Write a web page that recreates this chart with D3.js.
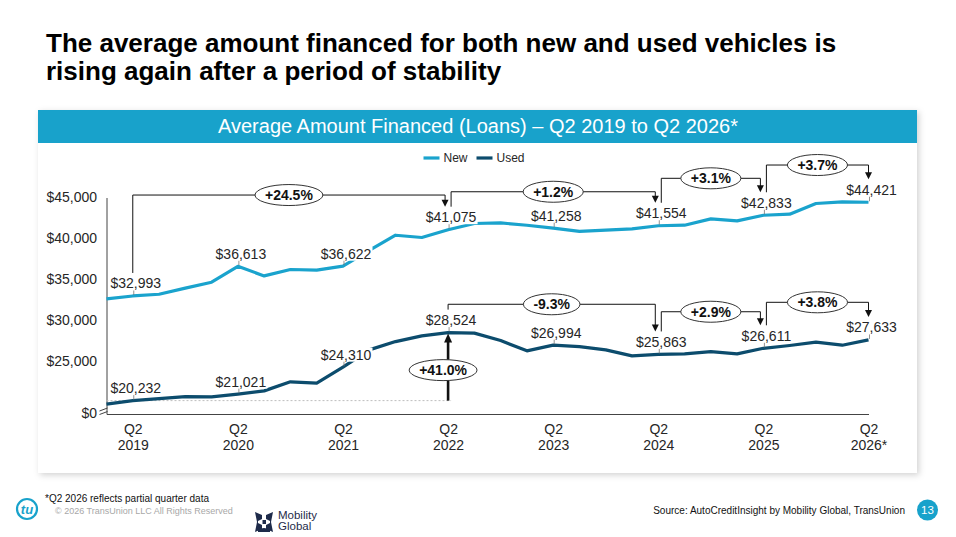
<!DOCTYPE html>
<html><head><meta charset="utf-8">
<script src="https://cdn.jsdelivr.net/npm/d3@7"></script>
<style>
body{margin:0;background:#fff;}
svg{display:block;font-family:"Liberation Sans",Arial,Helvetica,sans-serif;}
</style>
</head><body>
<svg id="c" width="956" height="537"></svg>
<script>
// ---------------- DATA ----------------
const quarters = [
  "Q1 2019","Q2 2019","Q3 2019","Q4 2019",
  "Q1 2020","Q2 2020","Q3 2020","Q4 2020",
  "Q1 2021","Q2 2021","Q3 2021","Q4 2021",
  "Q1 2022","Q2 2022","Q3 2022","Q4 2022",
  "Q1 2023","Q2 2023","Q3 2023","Q4 2023",
  "Q1 2024","Q2 2024","Q3 2024","Q4 2024",
  "Q1 2025","Q2 2025","Q3 2025","Q4 2025",
  "Q1 2026","Q2 2026"
];
const newValues = [
  32640, 32993, 33200, 33950,
  34670, 36613, 35440, 36220,
  36140, 36622, 38550, 40400,
  40120, 41075, 41830, 41900,
  41620, 41258, 40880, 41010,
  41170, 41554, 41620, 42390,
  42150, 42833, 42970, 44270,
  44470, 44421
];
const usedValues = [
  19800, 20232, 20480, 20720,
  20690, 21021, 21420, 22520,
  22360, 24310, 26420, 27430,
  28120, 28524, 28460, 27560,
  26300, 26994, 26820, 26420,
  25690, 25863, 25930, 26210,
  25930, 26611, 26950, 27360,
  26990, 27633
];
const seriesNames = ["New", "Used"];
const xTickQuarters = ["Q2 2019","Q2 2020","Q2 2021","Q2 2022","Q2 2023","Q2 2024","Q2 2025","Q2 2026"];
const xTickLabels = [["Q2","2019"],["Q2","2020"],["Q2","2021"],["Q2","2022"],["Q2","2023"],["Q2","2024"],["Q2","2025"],["Q2","2026*"]];
const yTickValues = [25000, 30000, 35000, 40000, 45000];
const yBaseLabel = "$0";
const labeledQuarters = xTickQuarters;
// change brackets: from, to, label, bracket level (in $ on the chart scale)
const newChanges = [
  {from:"Q2 2019", to:"Q2 2022", label:"+24.5%", level:45300},
  {from:"Q2 2022", to:"Q2 2024", label:"+1.2%",  level:45700},
  {from:"Q2 2024", to:"Q2 2025", label:"+3.1%",  level:47340},
  {from:"Q2 2025", to:"Q2 2026", label:"+3.7%",  level:48960}
];
const usedChanges = [
  {from:"Q2 2022", to:"Q2 2024", label:"-9.3%", level:31980},
  {from:"Q2 2024", to:"Q2 2025", label:"+2.9%", level:31070},
  {from:"Q2 2025", to:"Q2 2026", label:"+3.8%", level:32220}
];
const usedTotalChange = {from:"Q2 2019", to:"Q2 2022", label:"+41.0%"};

const titleLines = ["The average amount financed for both new and used vehicles is", "rising again after a period of stability"];
const chartTitle = "Average Amount Financed (Loans) \u2013 Q2 2019 to Q2 2026*";
const footnote = "*Q2 2026 reflects partial quarter data";
const copyright = "\u00A9 2026 TransUnion LLC All Rights Reserved";
const sourceText = "Source: AutoCreditInsight by Mobility Global, TransUnion";
const pageNumber = "13";

// ---------------- STYLE ----------------
const colors = {New:"#1aa3cd", Used:"#0c4c6d"};
const teal = "#18a2cb";
const seriesValues = {New:newValues, Used:usedValues};

const svg = d3.select("#c");
svg.append("rect").attr("width",956).attr("height",537).attr("fill","#fff");

const defs = svg.append("defs");
const f = defs.append("filter").attr("id","sh").attr("x","-5%").attr("y","-5%").attr("width","110%").attr("height","115%");
f.append("feDropShadow").attr("dx",2).attr("dy",2).attr("stdDeviation",3).attr("flood-color","#000").attr("flood-opacity",0.18);

// Title
const tt = svg.append("text").attr("x",46).attr("y",52).attr("font-size",26).attr("font-weight","bold").attr("fill","#000");
titleLines.forEach((t,i)=> tt.append("tspan").attr("x",46).attr("y",52+i*28).text(t));

// Panel
svg.append("rect").attr("x",38).attr("y",110).attr("width",879).attr("height",363).attr("fill","#fff").attr("filter","url(#sh)");
svg.append("rect").attr("x",38).attr("y",110).attr("width",879).attr("height",33).attr("fill",teal);
svg.append("text").attr("x",478).attr("y",133.3).attr("text-anchor","middle").attr("font-size",20).attr("fill","#fff").text(chartTitle);

// Scales
const x = d3.scalePoint().domain(quarters).range([106.5, 868.5]);
const y = d3.scaleLinear().domain([18600, 45000]).range([414, 197.5]);

// Y axis
const gy = svg.append("g").attr("transform",`translate(${x.range()[0]},0)`)
  .call(d3.axisLeft(y).tickValues(yTickValues).tickSize(0).tickSizeOuter(0).tickPadding(9.5).tickFormat(d3.format("$,")));
gy.select(".domain").attr("stroke","#444");
gy.selectAll(".tick text").attr("font-size",14).attr("fill","#262626").attr("font-family","Liberation Sans, Arial, sans-serif");
gy.append("text").attr("x",-9.5).attr("y",y.range()[0]).attr("dy","0.32em").attr("text-anchor","end")
  .attr("font-size",14).attr("fill","#262626").attr("font-family","Liberation Sans, Arial, sans-serif").text(yBaseLabel);
// axis break marks
[0,3.5].forEach(o=>{
  gy.append("line").attr("x1",-7).attr("y1",y.range()[0]-3+o).attr("x2",1).attr("y2",y.range()[0]-6+o).attr("stroke","#444").attr("stroke-width",1);
});

// X axis
const gx = svg.append("g").attr("transform",`translate(0,${y.range()[0]})`)
  .call(d3.axisBottom(x).tickValues(xTickQuarters).tickSize(0).tickSizeOuter(0));
gx.select(".domain").attr("stroke","#444");
gx.selectAll(".tick text").each(function(d){
  const t = d3.select(this);
  const lab = xTickLabels[xTickQuarters.indexOf(d)];
  t.text(null).attr("y",null).attr("dy",null).attr("font-size",14).attr("fill","#262626")
   .attr("font-family","Liberation Sans, Arial, sans-serif");
  t.append("tspan").attr("x",0).attr("y",19.5).text(lab[0]);
  t.append("tspan").attr("x",0).attr("y",35.5).text(lab[1]);
});

// Dotted reference line for used
const uFromI = quarters.indexOf(usedTotalChange.from), uToI = quarters.indexOf(usedTotalChange.to);
svg.append("line").attr("x1",x.range()[0]).attr("x2",x(usedTotalChange.to)+3)
  .attr("y1",y(usedValues[uFromI])).attr("y2",y(usedValues[uFromI]))
  .attr("stroke","#bdbdbd").attr("stroke-width",1).attr("stroke-dasharray","2,2");

// Lines
const line = d3.line().x((d,i)=>x(quarters[i])).y(d=>y(d));
seriesNames.forEach(s=>{
  svg.append("path").datum(seriesValues[s]).attr("d",line).attr("fill","none")
    .attr("stroke",colors[s]).attr("stroke-width",3.2).attr("stroke-linejoin","round").attr("stroke-linecap","butt");
});

// Value labels
const fmt = d3.format("$,");
seriesNames.forEach(s=>{
  const vals = seriesValues[s];
  labeledQuarters.forEach(q=>{
    const i = quarters.indexOf(q), v = vals[i];
    const g = svg.append("g");
    const bg = g.append("rect").attr("fill","#fff");
    const t = g.append("text").attr("x",x(q)+3).attr("y",y(v)-7.5).attr("text-anchor","middle")
      .attr("font-size",14).attr("fill","#262626").text(fmt(v));
    const bb = t.node().getBBox();
    bg.attr("x",bb.x-1).attr("y",bb.y+1).attr("width",bb.width+2).attr("height",bb.height-2);
    g.append("line").attr("x1",x(q)+1).attr("x2",x(q)+1).attr("y1",y(v)-5.5).attr("y2",y(v)-1)
      .attr("stroke","#777").attr("stroke-width",0.8);
  });
});

// Brackets
function pill(cx, cy, label){
  const g = svg.append("g");
  const e = g.append("ellipse").attr("cx",cx).attr("cy",cy).attr("fill","#fff").attr("stroke","#333").attr("stroke-width",1);
  const t = g.append("text").attr("x",cx).attr("y",cy).attr("dy","0.36em").attr("text-anchor","middle")
    .attr("font-size",14).attr("font-weight","bold").attr("fill","#111").text(label);
  const w = t.node().getComputedTextLength();
  e.attr("rx",w/2+10).attr("ry",10.5);
}
function arrowDown(xp, tip){
  svg.append("path").attr("d",`M${xp-3.5},${tip-7}L${xp+3.5},${tip-7}L${xp},${tip}Z`).attr("fill","#111");
}
function drawBrackets(changes, vals){
  changes.forEach(ch=>{
    const fi = quarters.indexOf(ch.from), ti = quarters.indexOf(ch.to);
    const so = changes.some(c=>c.to===ch.from) ? 3 : 0;
    const eo = changes.some(c=>c.from===ch.to) ? -3 : 0;
    const xs = x(ch.from)+so, xe = x(ch.to)+eo;
    const ys = y(vals[fi])-23, ye = y(vals[ti])-23, yl = y(ch.level);
    svg.append("path").attr("d",`M${xs},${ys}V${yl}H${xe}V${ye-6}`).attr("fill","none").attr("stroke","#111").attr("stroke-width",1);
    arrowDown(xe, ye);
    pill((xs+xe)/2, yl, ch.label);
  });
}
drawBrackets(newChanges, newValues);
drawBrackets(usedChanges, usedValues);

// Total used change arrow (up)
{
  const xa = x(usedTotalChange.to);
  const y0 = y(usedValues[uFromI]), y1 = y(usedValues[uToI])+1;
  svg.append("line").attr("x1",xa).attr("x2",xa).attr("y1",y0).attr("y2",y1+8).attr("stroke","#111").attr("stroke-width",2.6);
  svg.append("path").attr("d",`M${xa-4},${y1+9}L${xa+4},${y1+9}L${xa},${y1}Z`).attr("fill","#111");
  pill(xa-5, (y0+y1)/2+3, usedTotalChange.label);
}

// Legend
const lg = svg.append("g").attr("font-size",12).attr("fill","#262626");
const legendX = [423.5, 476.5];
seriesNames.forEach((s,i)=>{
  lg.append("line").attr("x1",legendX[i]).attr("x2",legendX[i]+16).attr("y1",158).attr("y2",158)
    .attr("stroke",colors[s]).attr("stroke-width",3.2);
  lg.append("text").attr("x",legendX[i]+20).attr("y",162.3).text(s);
});

// Footer
svg.append("text").attr("x",45).attr("y",502).attr("font-size",10).attr("fill","#111").text(footnote);
svg.append("text").attr("x",55).attr("y",513.5).attr("font-size",9).attr("fill","#a8a8a8").text(copyright);
svg.append("text").attr("x",905).attr("y",514).attr("text-anchor","end").attr("font-size",10).attr("fill","#111").text(sourceText);
svg.append("circle").attr("cx",927.5).attr("cy",510).attr("r",10.5).attr("fill",teal);
svg.append("text").attr("x",927.5).attr("y",510).attr("dy","0.36em").attr("text-anchor","middle").attr("font-size",11.5).attr("fill","#fff").text(pageNumber);

// TU logo
svg.append("circle").attr("cx",27).attr("cy",509).attr("r",10).attr("fill","none").attr("stroke",teal).attr("stroke-width",2.2);
svg.append("text").attr("x",27).attr("y",509).attr("dy","0.35em").attr("text-anchor","middle").attr("font-size",13)
  .attr("font-weight","bold").attr("font-style","italic").attr("fill",teal).text("tu");

// Mobility Global logo
const mg = svg.append("g").attr("fill","#1e2b4a");
mg.append("path").attr("d","M255,512 L262,515 L262,519 L258,521 L258,523 L262,525 L262,529 L255,532 L257,522 Z");
mg.append("path").attr("d","M273,512 L266,515 L266,519 L270,521 L270,523 L266,525 L266,529 L273,532 L271,522 Z");
mg.append("rect").attr("x",262.5).attr("y",520).attr("width",3.5).attr("height",4);
mg.append("path").attr("d","M258,530 Q264,526 270,530 L270,532 L258,532 Z");
svg.append("text").attr("x",278).attr("y",519).attr("font-size",11.5).attr("fill","#1e2b4a").text("Mobility");
svg.append("text").attr("x",278).attr("y",530).attr("font-size",11.5).attr("fill","#1e2b4a").text("Global");
</script>
</body></html>
